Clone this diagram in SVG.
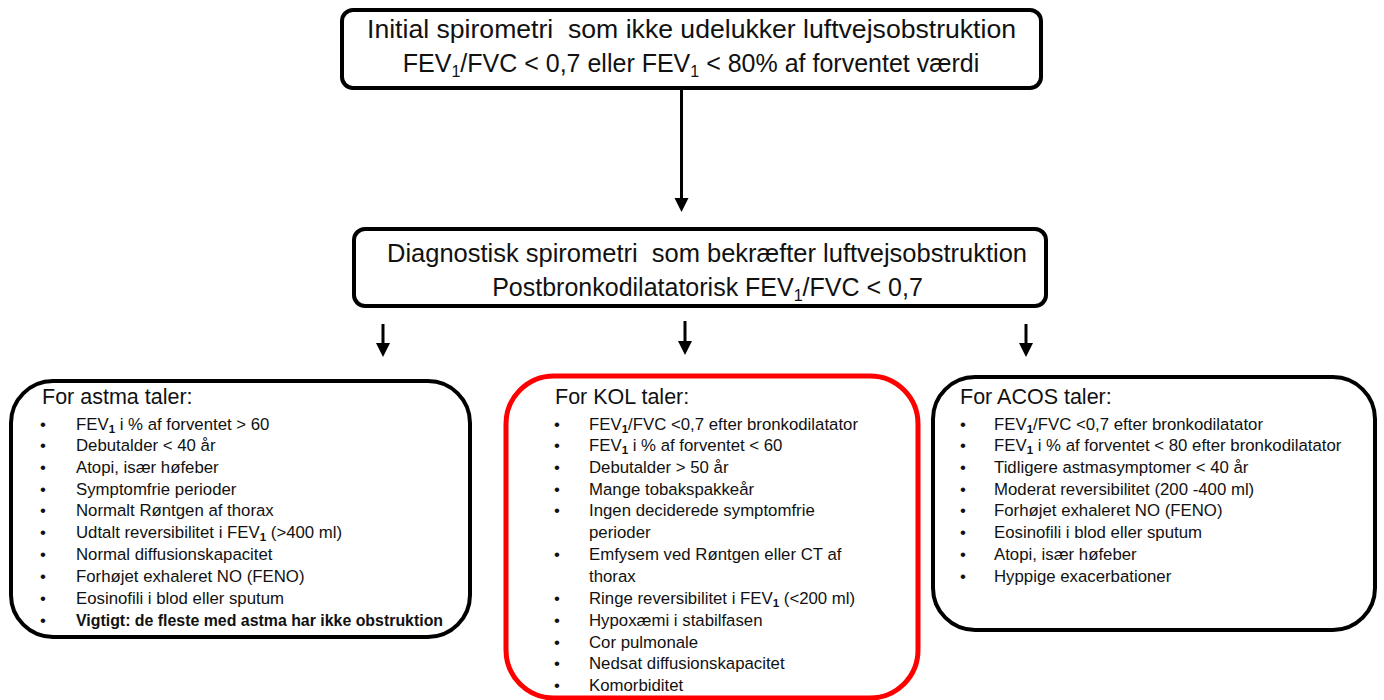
<svg xmlns="http://www.w3.org/2000/svg" width="1384" height="700" viewBox="0 0 1384 700">
<defs>
<style>
text{font-family:"Liberation Sans",Arial,sans-serif;fill:#111;}
.hd{font-size:25px;text-anchor:middle;white-space:pre;}
.ti{font-size:21.5px;}
.it{font-size:16.8px;}
.b{font-weight:bold;font-size:15.9px;}
.sub{font-size:11.5px;font-weight:bold;}
.box{fill:#fff;stroke:#000;stroke-width:4;}
.red{fill:#fff;stroke:#f00;stroke-width:5;}
.ln{stroke:#000;stroke-width:3;fill:none;}
.ah{fill:#000;}
</style>
</defs>
<rect width="1384" height="700" fill="#fff"/>
<g id="connectors">
<line class="ln" x1="681.5" y1="88" x2="681.5" y2="199"/>
<polygon class="ah" points="674.5,198 688.5,198 681.5,212"/>
<line class="ln" x1="383" y1="324" x2="383" y2="344"/>
<polygon class="ah" points="376,343 390,343 383,357"/>
<line class="ln" x1="685" y1="321" x2="685" y2="342"/>
<polygon class="ah" points="678,341 692,341 685,355"/>
<line class="ln" x1="1026" y1="324" x2="1026" y2="344"/>
<polygon class="ah" points="1019,343 1033,343 1026,357"/>
</g>
<g id="node-initial">
<rect class="box" x="342" y="10" width="699" height="78" rx="11"/>
<text class="hd" x="691.5" y="38" textLength="649" lengthAdjust="spacingAndGlyphs">Initial spirometri  som ikke udelukker luftvejsobstruktion</text>
<text class="hd" x="691" y="72">FEV<tspan font-size="16" dy="5">1</tspan><tspan dy="-5">/FVC &lt; 0,7 eller FEV</tspan><tspan font-size="16" dy="5">1</tspan><tspan dy="-5"> &lt; 80% af forventet værdi</tspan></text>
</g>
<g id="node-diagnostisk">
<rect class="box" x="354" y="229" width="692" height="77" rx="11"/>
<text class="hd" x="707" y="262" textLength="640" lengthAdjust="spacingAndGlyphs">Diagnostisk spirometri  som bekræfter luftvejsobstruktion</text>
<text class="hd" x="707.5" y="296">Postbronkodilatatorisk FEV<tspan font-size="16" dy="5">1</tspan><tspan dy="-5">/FVC &lt; 0,7</tspan></text>
</g>
<g id="node-astma">
<rect class="box" x="11" y="381" width="459" height="256" rx="42"/>
<text class="ti" x="42" y="404">For astma taler:</text>
<g class="it">
<text x="40" y="430">•</text><text x="76" y="430">FEV<tspan class="sub" dy="3">1</tspan><tspan dy="-3"> i % af forventet &gt; 60</tspan></text>
<text x="40" y="451">•</text><text x="76" y="451">Debutalder &lt; 40 år</text>
<text x="40" y="473">•</text><text x="76" y="473">Atopi, især høfeber</text>
<text x="40" y="495">•</text><text x="76" y="495">Symptomfrie perioder</text>
<text x="40" y="516">•</text><text x="76" y="516">Normalt Røntgen af thorax</text>
<text x="40" y="538">•</text><text x="76" y="538">Udtalt reversibilitet i FEV<tspan class="sub" dy="3">1</tspan><tspan dy="-3"> (&gt;400 ml)</tspan></text>
<text x="40" y="560">•</text><text x="76" y="560">Normal diffusionskapacitet</text>
<text x="40" y="582">•</text><text x="76" y="582">Forhøjet exhaleret NO (FENO)</text>
<text x="40" y="604">•</text><text x="76" y="604">Eosinofili i blod eller sputum</text>
<text x="40" y="626">•</text><text class="b" x="76" y="626">Vigtigt: de fleste med astma har ikke obstruktion</text>
</g>
</g>
<g id="node-kol">
<rect class="red" x="506" y="376" width="412" height="322" rx="48"/>
<text class="ti" x="555" y="404">For KOL taler:</text>
<g class="it">
<text x="554" y="430">•</text><text x="589" y="430">FEV<tspan class="sub" dy="3">1</tspan><tspan dy="-3">/FVC &lt;0,7 efter bronkodilatator</tspan></text>
<text x="554" y="451">•</text><text x="589" y="451">FEV<tspan class="sub" dy="3">1</tspan><tspan dy="-3"> i % af forventet &lt; 60</tspan></text>
<text x="554" y="473">•</text><text x="589" y="473">Debutalder &gt; 50 år</text>
<text x="554" y="495">•</text><text x="589" y="495">Mange tobakspakkeår</text>
<text x="554" y="516">•</text><text x="589" y="516">Ingen deciderede symptomfrie</text>
<text x="589" y="538">perioder</text>
<text x="554" y="560">•</text><text x="589" y="560">Emfysem ved Røntgen eller CT af</text>
<text x="589" y="582">thorax</text>
<text x="554" y="604">•</text><text x="589" y="604">Ringe reversibilitet i FEV<tspan class="sub" dy="3">1</tspan><tspan dy="-3"> (&lt;200 ml)</tspan></text>
<text x="554" y="626">•</text><text x="589" y="626">Hypoxæmi i stabilfasen</text>
<text x="554" y="648">•</text><text x="589" y="648">Cor pulmonale</text>
<text x="554" y="669">•</text><text x="589" y="669">Nedsat diffusionskapacitet</text>
<text x="554" y="691">•</text><text x="589" y="691">Komorbiditet</text>
</g>
</g>
<g id="node-acos">
<rect class="box" x="933" y="377" width="442" height="253" rx="42"/>
<text class="ti" x="960" y="404">For ACOS taler:</text>
<g class="it">
<text x="960" y="430">•</text><text x="994" y="430">FEV<tspan class="sub" dy="3">1</tspan><tspan dy="-3">/FVC &lt;0,7 efter bronkodilatator</tspan></text>
<text x="960" y="451">•</text><text x="994" y="451">FEV<tspan class="sub" dy="3">1</tspan><tspan dy="-3"> i % af forventet &lt; 80 efter bronkodilatator</tspan></text>
<text x="960" y="473">•</text><text x="994" y="473">Tidligere astmasymptomer &lt; 40 år</text>
<text x="960" y="495">•</text><text x="994" y="495">Moderat reversibilitet (200 -400 ml)</text>
<text x="960" y="516">•</text><text x="994" y="516">Forhøjet exhaleret NO (FENO)</text>
<text x="960" y="538">•</text><text x="994" y="538">Eosinofili i blod eller sputum</text>
<text x="960" y="560">•</text><text x="994" y="560">Atopi, især høfeber</text>
<text x="960" y="582">•</text><text x="994" y="582">Hyppige exacerbationer</text>
</g>
</g>
</svg>
